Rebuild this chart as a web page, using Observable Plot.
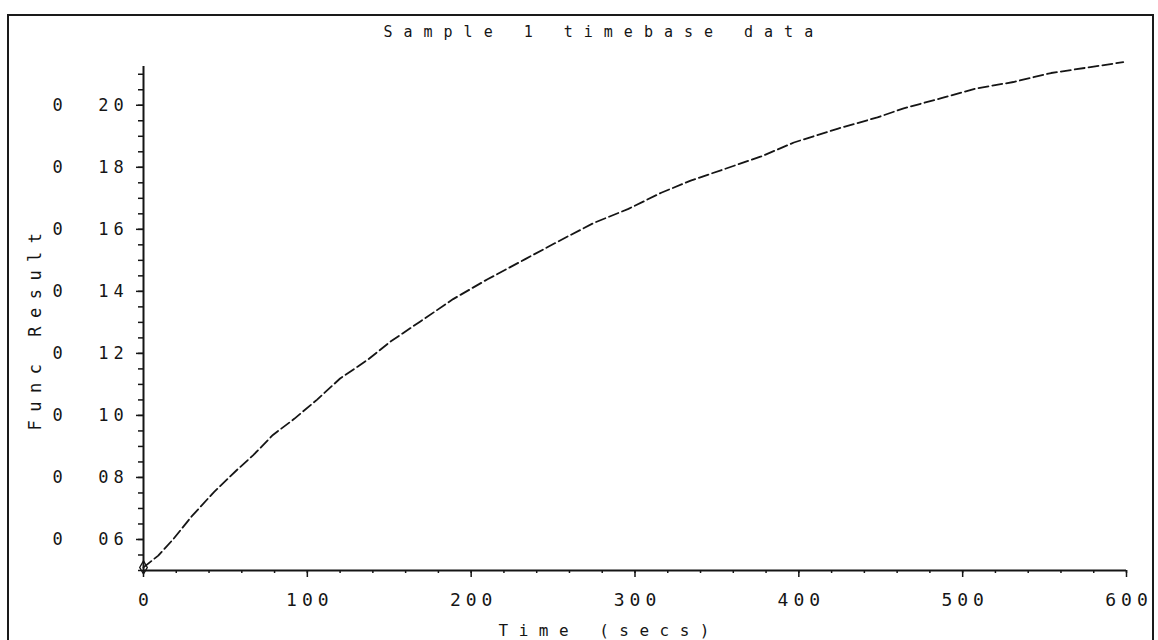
<!DOCTYPE html>
<html>
<head>
<meta charset="utf-8">
<script src="https://cdn.jsdelivr.net/npm/d3@7"></script>
<script src="https://cdn.jsdelivr.net/npm/@observablehq/plot@0.6"></script>
<style>
  html, body { margin: 0; padding: 0; background: #fff; overflow: hidden; }
  #wrap { position: relative; width: 1158px; height: 640px; }
  #border { position: absolute; left: 7px; top: 14px; width: 1147px; height: 700px;
            border: 2px solid #1a1a1a; box-sizing: border-box; pointer-events: none; }
</style>
</head>
<body>
<div id="wrap"><div id="border"></div></div>
<script>
// ---- data ----
const titleText = "Sample 1 timebase data";
const xLabelText = "Time (secs)";
const yLabelText = "Func Result";

const xTicks = [0, 100, 200, 300, 400, 500, 600];
const xTickLabels = ["0", "100", "200", "300", "400", "500", "600"];
const yTicks = [0.06, 0.08, 0.10, 0.12, 0.14, 0.16, 0.18, 0.20];
const yTickLabels = ["0\u00A0\u00A006", "0\u00A0\u00A008", "0\u00A0\u00A010", "0\u00A0\u00A012",
                     "0\u00A0\u00A014", "0\u00A0\u00A016", "0\u00A0\u00A018", "0\u00A0\u00A020"];

const time   = [0, 9, 18, 29, 43, 57, 67, 79, 92, 106, 120, 137, 151, 169, 189, 210, 233,
                256, 275, 296, 316, 334, 377, 397, 424, 448, 464, 487, 509, 531, 554, 578, 598];
const result = [0.051, 0.0548, 0.0600, 0.0672, 0.0753, 0.0824, 0.0872, 0.0937, 0.0989, 0.1051,
                0.1119, 0.1180, 0.1239, 0.1303, 0.1375, 0.1439, 0.1504, 0.1569, 0.1621, 0.1666,
                0.1718, 0.1757, 0.1835, 0.1880, 0.1925, 0.1961, 0.1990, 0.2023, 0.2055, 0.2075,
                0.2104, 0.2123, 0.2139];

const series = time.map((t, i) => ({t, v: result[i]}));
const xMinor = d3.range(0, 601, 20);
const yMinor = d3.range(0, 33).map(i => +(0.05 + i * 0.005).toFixed(3));

const ink = "#151515";
const font = "DejaVu Sans Mono";

const chart = Plot.plot({
  width: 1158,
  height: 640,
  marginLeft: 143,
  marginRight: 32,
  marginTop: 66,
  marginBottom: 70,
  x: {domain: [0, 600], axis: null},
  y: {domain: [0.05, 0.2125], axis: null},
  style: {fontFamily: font, background: "transparent", color: ink},
  marks: [
    Plot.ruleY([0.05], {stroke: ink, strokeWidth: 2}),
    Plot.ruleX([0], {stroke: ink, strokeWidth: 2}),
    Plot.axisX({ticks: xMinor, tickSize: 3, tickFormat: () => "", label: null, stroke: ink, strokeWidth: 1.5}),
    Plot.axisX({ticks: xTicks, tickSize: 7, tickFormat: () => "", label: null, stroke: ink, strokeWidth: 1.5}),
    Plot.axisY({ticks: yMinor, tickSize: 5, tickFormat: () => "", label: null, stroke: ink, strokeWidth: 1.5}),
    Plot.axisY({ticks: yTicks, tickSize: 7, tickFormat: () => "", label: null, stroke: ink, strokeWidth: 1.5}),
    Plot.text(xTicks, {
      x: d => d, frameAnchor: "bottom", text: (d, i) => xTickLabels[i],
      dy: 30, dx: 2.5, lineAnchor: "middle", fontSize: 18, fill: ink
    }),
    Plot.text(yTicks, {
      y: d => d, frameAnchor: "left", text: (d, i) => yTickLabels[i],
      textAnchor: "start", dx: -91, lineAnchor: "middle", fontSize: 17, fill: ink
    }),
    Plot.text([titleText], {
      text: d => d, frameAnchor: "top-left", textAnchor: "start", lineAnchor: "middle",
      dx: 240, dy: -34, fontSize: 15, fill: ink
    }),
    Plot.text([xLabelText], {
      text: d => d, frameAnchor: "bottom-left", textAnchor: "start", lineAnchor: "middle",
      dx: 355, dy: 60, fontSize: 16, fill: ink
    }),
    Plot.text([yLabelText], {
      text: d => d, frameAnchor: "left", textAnchor: "start", lineAnchor: "middle", rotate: -90,
      dx: -108, dy: 112, fontSize: 17, fill: ink
    }),
    Plot.line(series, {x: "t", y: "v", stroke: ink, strokeWidth: 1.8, strokeDasharray: "10,4"}),
    Plot.dot(series.slice(0, 1), {x: "t", y: "v", symbol: "diamond", r: 4, stroke: ink, fill: "none", strokeWidth: 1.3})
  ]
});

// letter spacing to imitate the wide plotter lettering
const spacing = new Map();
xTickLabels.forEach(s => spacing.set(s, "5px"));
yTickLabels.forEach(s => spacing.set(s, "5px"));
spacing.set(titleText, "11px");
spacing.set(xLabelText, "10.5px");
spacing.set(yLabelText, "8.5px");
d3.select(chart).selectAll("text").each(function () {
  const s = spacing.get(this.textContent);
  if (s) {
    this.setAttribute("letter-spacing", s);
    this.style.letterSpacing = s;
  }
});

document.getElementById("wrap").appendChild(chart);
chart.style.position = "absolute";
chart.style.left = "0px";
chart.style.top = "0px";
</script>
</body>
</html>
